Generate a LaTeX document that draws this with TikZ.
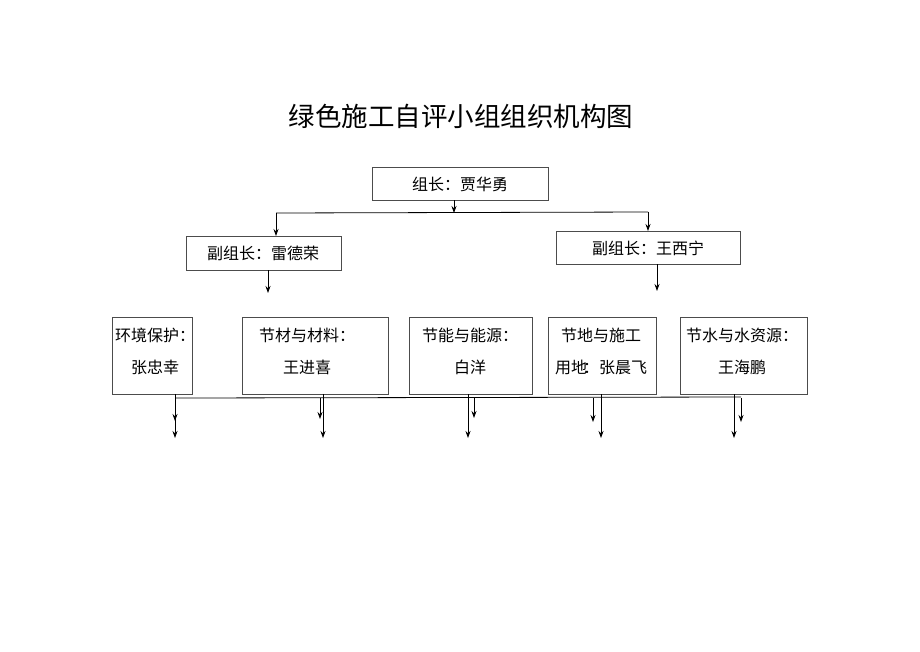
\documentclass[tikz,border=0pt]{standalone}
\usepackage{fontspec}
\setmainfont{Noto Sans CJK SC}
\usetikzlibrary{arrows.meta}
\begin{document}
\begin{tikzpicture}[x=1pt,y=-1pt,
 box/.style={draw=black!70,line width=0.8pt},
 lbl/.style={font=\fontsize{16}{20}\selectfont,align=center},
 arr/.style={-{Stealth[length=7pt,width=5pt]},line width=0.8pt},
 ln/.style={line width=0.8pt}]
\useasboundingbox (0,0) rectangle (920,651);
\node[font=\fontsize{26.5}{30}\selectfont] (title) at (461,116) {绿色施工自评小组组织机构图};
\draw[box] (372,167) rectangle (548,200); \node[lbl] (top) at (460,184) {组长：贾华勇};
\draw[box] (186,236) rectangle (341,270); \node[lbl] (l) at (263,253) {副组长：雷德荣};
\draw[box] (556,231) rectangle (740,264); \node[lbl] (r) at (648,248) {副组长：王西宁};
\draw[box] (112,317) rectangle (192,394); \node[lbl] (b1) at (155,351) {环境保护：\\[12pt]张忠幸};
\draw[box] (242,317) rectangle (388,394); \node[lbl] (b2) at (307,351) {节材与材料：\\[12pt]王进喜};
\draw[box] (409,317) rectangle (532,394); \node[lbl] (b3) at (470,351) {节能与能源：\\[12pt]白洋};
\draw[box] (548,317) rectangle (656,394); \node[lbl] (b4) at (601,351) {节地与施工\\[12pt]用地\kern-4pt：张晨飞};
\draw[box] (680,317) rectangle (807,394); \node[lbl] (b5) at (742,351) {节水与水资源：\\[12pt]王海鹏};
\coordinate (t1) at (454,200); \coordinate (t2) at (454,213);
\draw[arr] (t1) -- (t2);
\draw[ln] (276,213) -- (648,212);
\draw[arr] (276,213) -- (276,236);
\draw[arr] (648,212) -- (648,231);
\draw[arr] (268,270) -- (268,293);
\draw[arr] (657,264) -- (657,291);
\draw[ln] (175,398) -- (741,397);
\foreach \x in {175,323,468,601,734} \draw[arr] (\x,394) -- (\x,438);
\foreach \x/\y in {175/421,320/419,474/418,593/422,741/422} \draw[arr] (\x,398) -- (\x,\y);
\end{tikzpicture}
\end{document}
